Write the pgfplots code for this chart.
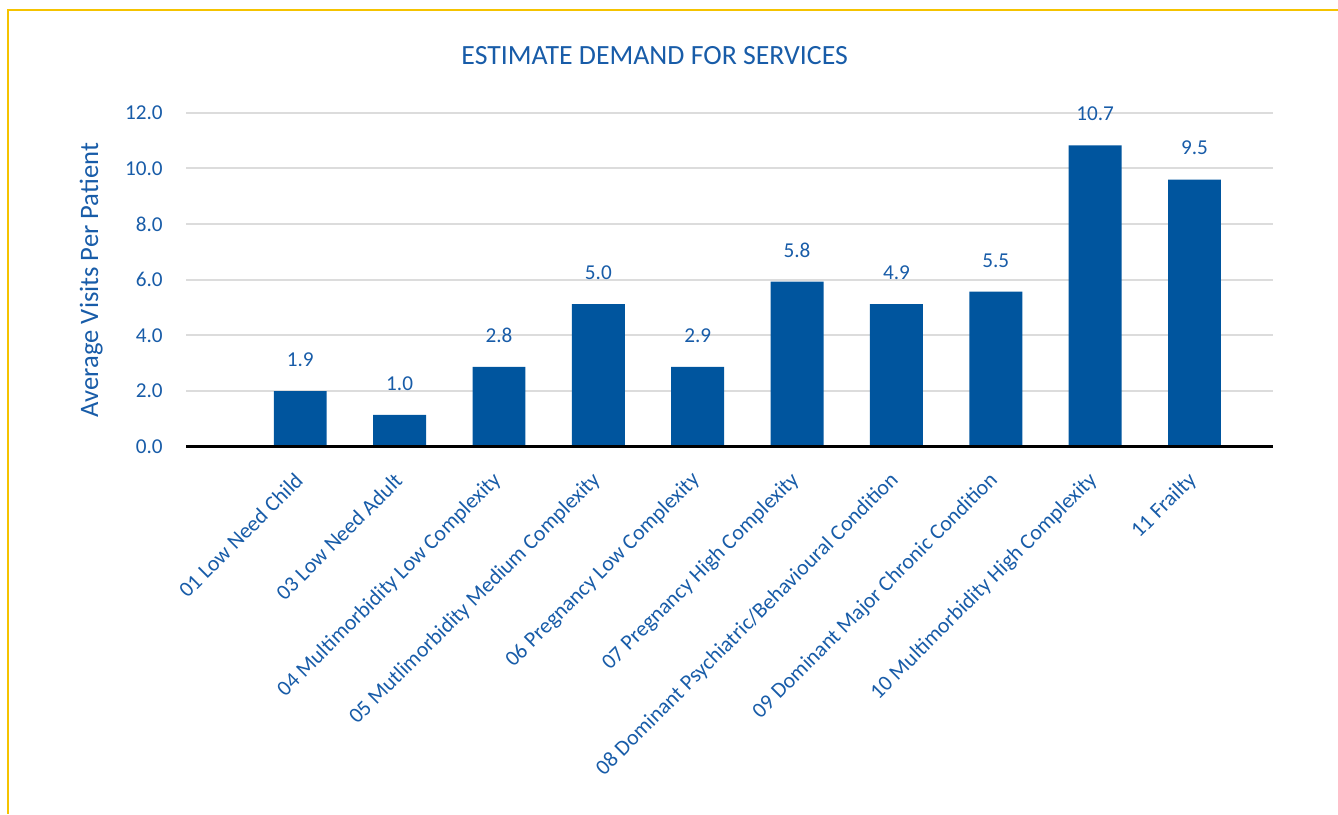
\documentclass[border=0pt]{standalone}
\usepackage{fontspec}
\setmainfont{Carlito}
\usepackage{pgfplots}
\usepackage{pgfplotstable}
\pgfplotsset{compat=1.18}
\definecolor{barblue}{RGB}{0,85,158}
\definecolor{txtblue}{RGB}{24,92,168}
\definecolor{gridgray}{RGB}{220,220,220}
\definecolor{frameyellow}{RGB}{245,195,0}

\pgfplotstableread{
x h lab
0 2.00 1.9
1 1.14 1.0
2 2.87 2.8
3 5.12 5.0
4 2.87 2.9
5 5.93 5.8
6 5.12 4.9
7 5.57 5.5
8 10.83 10.7
9 9.60 9.5
}\datatable

\begin{document}
\begin{tikzpicture}
\path[use as bounding box] (0pt,0pt) rectangle (669pt,407pt);
\draw[frameyellow, line width=1.25pt] (669pt,402pt) -- (4pt,402pt) -- (4pt,0pt);
\node[anchor=base, text=txtblue, font=\fontsize{13.9}{16}\selectfont, inner sep=0pt] at (327.35pt,374.85pt) {ESTIMATE DEMAND FOR SERVICES};
\node[anchor=base, rotate=90, text=txtblue, font=\fontsize{13.3}{15}\selectfont, inner sep=0pt] at (49pt,267pt) {Average Visits Per Patient};
\begin{axis}[
  scale only axis,
  width=543.5pt, height=167pt,
  at={(93pt,183.65pt)}, anchor=south west,
  xmin=-1.15, xmax=9.79, ymin=0, ymax=12,
  clip=false,
  /pgf/number format/assume math mode=true,
  separate axis lines,
  axis x line*=bottom, axis y line*=left,
  x axis line style={draw=none},
  y axis line style={draw=none},
  major tick length=0pt,
  tick style={draw=none},
  ytick={0,2,4,6,8,10,12},
  yticklabel={\pgfmathprintnumber[fixed,fixed zerofill,precision=1,assume math mode=true]{\tick}},
  yticklabel style={inner sep=0pt, xshift=-11.5pt, text=txtblue, font=\fontsize{10.6}{13}\selectfont},
  ymajorgrids,
  major grid style={gridgray, line width=1pt},
  xtick={0,1,2,3,4,5,6,7,8,9},
  xticklabels={01 Low Need Child, 03 Low Need Adult, 04 Multimorbidity Low Complexity, 05 Mutlimorbidity Medium Complexity, 06 Pregnancy Low Complexity, 07 Pregnancy High Complexity, 08 Dominant Psychiatric/Behavioural Condition, 09 Dominant Major Chronic Condition, 10 Multimorbidity High Complexity, 11 Frailty},
  xticklabel style={xshift=-0.5pt, yshift=-15pt, rotate=45, anchor=east, inner sep=0pt, text=txtblue, font=\fontsize{10.9}{13}\selectfont},
]
\addplot[ybar, bar width=0.533, fill=barblue, draw=none,
  point meta=explicit symbolic,
  nodes near coords,
  every node near coord/.append style={anchor=south, inner sep=0pt, yshift=12pt, text=txtblue, font=\fontsize{10.6}{13}\selectfont}]
  table[x=x, y=h, meta=lab]{\datatable};
\draw[black, line width=1.4pt] (axis cs:-1.15,0) -- (axis cs:9.79,0);
\end{axis}
\end{tikzpicture}
\end{document}
